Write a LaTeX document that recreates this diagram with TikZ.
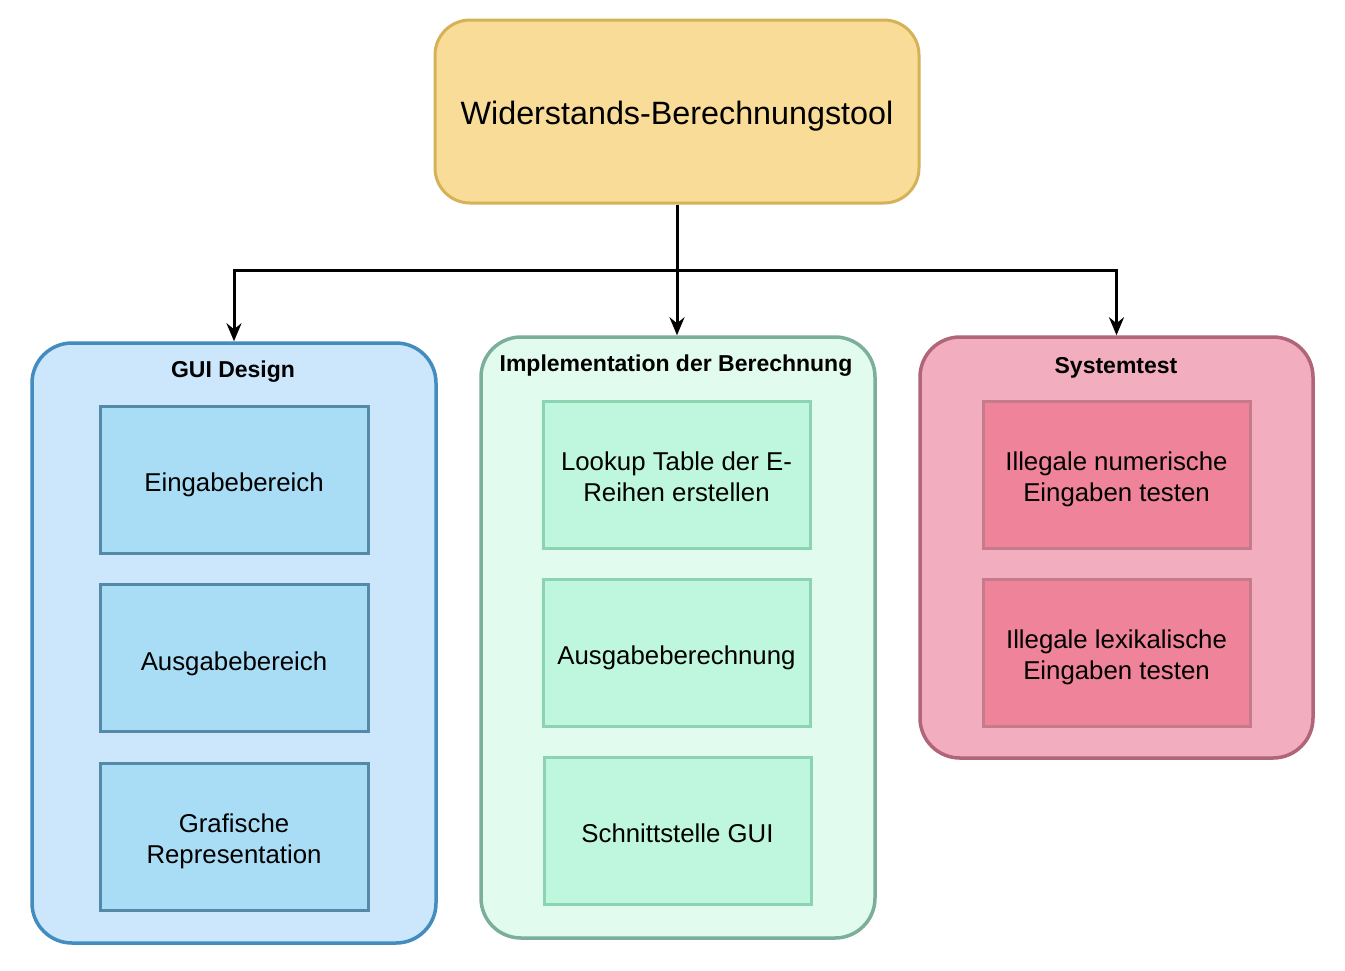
\documentclass[tikz,border=0pt]{standalone}
\usepackage{fontspec}
\setmainfont{Liberation Sans}
\usetikzlibrary{arrows.meta}
\definecolor{topfill}{HTML}{F8DC97}
\definecolor{topdraw}{HTML}{D5B257}
\definecolor{guifill}{HTML}{CCE6FB}
\definecolor{guidraw}{HTML}{438CC0}
\definecolor{guiinfill}{HTML}{A9DDF5}
\definecolor{guiindraw}{HTML}{5589A8}
\definecolor{impfill}{HTML}{E1FBEF}
\definecolor{impdraw}{HTML}{7BAF9B}
\definecolor{impinfill}{HTML}{BEF7DD}
\definecolor{impindraw}{HTML}{8CD3B2}
\definecolor{sysfill}{HTML}{F2ADBE}
\definecolor{sysdraw}{HTML}{B06578}
\definecolor{sysinfill}{HTML}{EE8399}
\definecolor{sysindraw}{HTML}{C57B8C}
\newcommand{\lowtext}[2]{\raisebox{-#1}[\height][\depth]{\begin{tabular}{@{}c@{}}#2\end{tabular}}}
\tikzset{
  container/.style={draw, rectangle, rounded corners=40, line width=3.5pt, inner sep=0pt},
  inbox/.style={draw, rectangle, line width=3pt, minimum width=268, minimum height=147, inner sep=0pt, font=\fontsize{25.8}{31}\selectfont},
  ttl/.style={inner sep=0pt, font=\fontsize{23}{28}\selectfont\bfseries},
  arr/.style={draw=black, line width=3pt, -{Stealth[length=18pt,width=15pt,inset=6pt]}},
}
\begin{document}
\begin{tikzpicture}[x=1pt,y=-1pt]
\useasboundingbox[fill=white] (0,0) rectangle (1345,970);
% root
\node[draw=topdraw, fill=topfill, rectangle, rounded corners=35, line width=3pt, minimum width=484, minimum height=183, inner sep=0pt, font=\fontsize{32.3}{38}\selectfont] (root) at (677,111.5) {\lowtext{5pt}{Widerstands-Berechnungstool}};
% containers
\node[container, draw=guidraw, fill=guifill, minimum width=404, minimum height=600] (gui) at (234,643) {};
\node[container, draw=impdraw, fill=impfill, minimum width=394, minimum height=601] (impl) at (678,637.5) {};
\node[container, draw=sysdraw, fill=sysfill, minimum width=393, minimum height=421] (sys) at (1116.5,547.5) {};
% titles
\node[ttl] (guittl) at (233,372) {GUI Design};
\node[ttl] (implttl) at (676,366) {Implementation der Berechnung};
\node[ttl] (systtl) at (1116,368) {Systemtest};
% inner boxes
\node[inbox, draw=guiindraw, fill=guiinfill] (g1) at (234,479.5) {\lowtext{6pt}{Eingabebereich}};
\node[inbox, draw=guiindraw, fill=guiinfill] (g2) at (234,658) {\lowtext{6pt}{Ausgabebereich}};
\node[inbox, draw=guiindraw, fill=guiinfill] (g3) at (234,836.5) {\lowtext{5pt}{Grafische\\Representation}};
\node[inbox, draw=impindraw, fill=impinfill, minimum width=267] (i1) at (676.5,474.5) {\lowtext{5pt}{Lookup Table der E-\\Reihen erstellen}};
\node[inbox, draw=impindraw, fill=impinfill, minimum width=267] (i2) at (676.5,652.5) {\lowtext{6pt}{Ausgabeberechnung}};
\node[inbox, draw=impindraw, fill=impinfill, minimum width=267] (i3) at (677.5,830.5) {\lowtext{6pt}{Schnittstelle GUI}};
\node[inbox, draw=sysindraw, fill=sysinfill, minimum width=267] (s1) at (1116.5,474.5) {\lowtext{5pt}{Illegale numerische\\Eingaben testen}};
\node[inbox, draw=sysindraw, fill=sysinfill, minimum width=267] (s2) at (1116.5,652.5) {\lowtext{5pt}{Illegale lexikalische\\Eingaben testen}};
% connectors
\coordinate (hub) at (677,270);
\draw[arr] (root.south) -- (hub) -| (gui.north);
\draw[arr] (hub) -| (sys.north);
\draw[arr] (root.south) -- (root.south |- impl.north);
\end{tikzpicture}
\end{document}
